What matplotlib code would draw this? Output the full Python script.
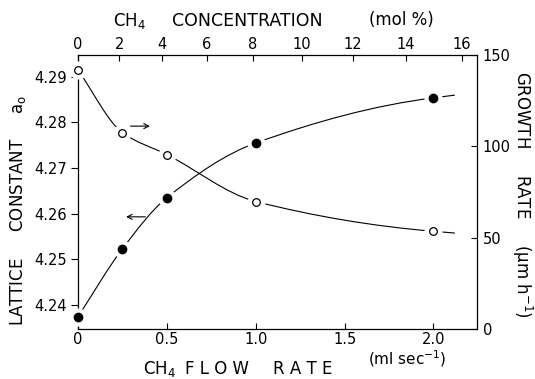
import numpy as np
import matplotlib
matplotlib.use('Agg')
from matplotlib import pyplot as plt
from matplotlib.path import Path
from matplotlib.patches import PathPatch

# data
flow = [0.0, 0.25, 0.5, 1.0, 2.0]                    # CH4 flow rate (ml/sec)
lattice = [4.2374, 4.2523, 4.2635, 4.2755, 4.2854]  # lattice constant a0
growth = [141.8, 107.5, 95.5, 69.8, 53.5]            # growth rate (um/h)
h2_flow = 11.33                                      # carrier flow, sets mol % scale

flow_ticks = [0, 0.5, 1.0, 1.5, 2.0]
flow_labels = ['0', '0.5', '1.0', '1.5', '2.0']
conc_ticks = [0, 2, 4, 6, 8, 10, 12, 14, 16]
lattice_ticks = [4.24, 4.25, 4.26, 4.27, 4.28, 4.29]
growth_ticks = [0, 50, 100, 150]

plt.rcParams['font.family'] = 'DejaVu Sans'
plt.rcParams['mathtext.default'] = 'regular'


def smooth_path(x, y, tail=0.12):
    # hand-drawn style fit curve through the points, with a short tail
    x = np.asarray(x, float)
    y = np.asarray(y, float)
    s = np.diff(y) / np.diff(x)
    m = np.empty_like(y)
    m[1:-1] = 2 / (1 / s[:-1] + 1 / s[1:])
    m[0] = s[0]
    m[-1] = 0.5 * s[-1]
    verts = [(x[0], y[0])]
    codes = [Path.MOVETO]
    for i in range(len(x) - 1):
        h = x[i + 1] - x[i]
        verts += [(x[i] + h / 3, y[i] + m[i] * h / 3),
                  (x[i + 1] - h / 3, y[i + 1] - m[i + 1] * h / 3),
                  (x[i + 1], y[i + 1])]
        codes += [Path.CURVE4] * 3
    verts.append((x[-1] + tail, y[-1] + m[-1] * tail))
    codes.append(Path.LINETO)
    return Path(verts, codes)


def to_conc(f):
    f = np.asarray(f, float)
    return 100 * f / (f + h2_flow)


def to_flow(c):
    c = np.asarray(c, float)
    with np.errstate(divide='ignore', invalid='ignore'):
        return c * h2_flow / (100 - c)


fig = plt.figure(figsize=(5.35, 3.79), dpi=100)
ax1 = fig.add_axes([0.1458, 0.1319, 0.7458, 0.7230])
ax2 = ax1.twinx()

ax1.set_xlim(0, 2.245)
ax1.set_ylim(4.2347, 4.2948)
ax2.set_ylim(0, 150)

lw = 0.8
ax1.add_patch(PathPatch(smooth_path(flow, lattice), fill=False, lw=lw, color='black', zorder=2))
ax2.add_patch(PathPatch(smooth_path(flow, growth), fill=False, lw=lw, color='black', zorder=2))

# white halos leave the gaps around the symbols
ax1.plot(flow, lattice, 'o', ms=13, mfc='white', mew=0, clip_on=False, zorder=3)
ax1.plot(flow, lattice, 'o', ms=6, color='black', clip_on=False, zorder=4)
ax2.plot(flow, growth, 'o', ms=13, mfc='white', mew=0, clip_on=False, zorder=3)
ax2.plot(flow, growth, 'o', ms=5.5, mfc='white', mec='black', mew=0.9, clip_on=False, zorder=4)

arrow = dict(arrowstyle='->,head_length=0.35,head_width=0.18', lw=0.8, color='black')
ax1.annotate('', xy=(0.42, 4.2792), xytext=(0.28, 4.2792), arrowprops=arrow)
ax1.annotate('', xy=(0.255, 4.2593), xytext=(0.395, 4.2593), arrowprops=arrow)

for sp in ['right', 'top']:
    ax1.spines[sp].set_visible(False)
for sp in ['left', 'top', 'bottom']:
    ax2.spines[sp].set_visible(False)
for a in (ax1, ax2):
    for sp in a.spines.values():
        sp.set_linewidth(0.9)

ax1.set_xticks(flow_ticks)
ax1.set_xticklabels(flow_labels)
ax1.set_yticks(lattice_ticks)
ax1.set_yticklabels(['%.2f' % v for v in lattice_ticks])
ax2.set_yticks(growth_ticks)

fs = 10.5
ax1.tick_params(axis='x', direction='in', length=4, width=0.8, pad=2.5, labelsize=fs)
ax1.tick_params(axis='y', direction='out', length=5, width=0.8, pad=3, labelsize=fs)
ax2.tick_params(axis='y', direction='in', length=4, width=0.8, pad=4, labelsize=fs)

secax = ax1.secondary_xaxis('top', functions=(to_conc, to_flow))
secax.set_xticks(conc_ticks)
secax.tick_params(direction='in', length=4, width=0.8, pad=2.5, labelsize=fs)
secax.spines['top'].set_linewidth(0.9)

lab = 12
W, H = 535, 379
# top axis title
fig.text(113 / W, 1 - 21 / H, 'CH$_4$', fontsize=lab, ha='left', va='center')
fig.text(172 / W, 1 - 21 / H, 'CONCENTRATION', fontsize=12.5, ha='left', va='center')
fig.text(401 / W, 1 - 20 / H, '(mol %)', fontsize=lab, ha='center', va='center')
# bottom axis title, letters spaced out as in the original
fig.text(143 / W, 1 - 369 / H, 'CH$_4$', fontsize=lab, ha='left', va='center')
fig.text(185 / W, 1 - 369 / H, 'F L O W', fontsize=lab, ha='left', va='center')
fig.text(273 / W, 1 - 369 / H, 'R A T E', fontsize=lab, ha='left', va='center')
fig.text(407 / W, 1 - 359 / H, '(ml sec$^{-1}$)', fontsize=11, ha='center', va='center')
# side titles
fig.text(18 / W, 1 - 210 / H, 'LATTICE     CONSTANT     a$_o$', fontsize=lab,
         rotation=90, ha='center', va='center')
fig.text(522 / W, 1 - 195 / H, 'GROWTH     RATE     ($\\mu$m h$^{-1}$)', fontsize=lab,
         rotation=-90, ha='center', va='center')

fig.savefig('out.png', dpi=100)
